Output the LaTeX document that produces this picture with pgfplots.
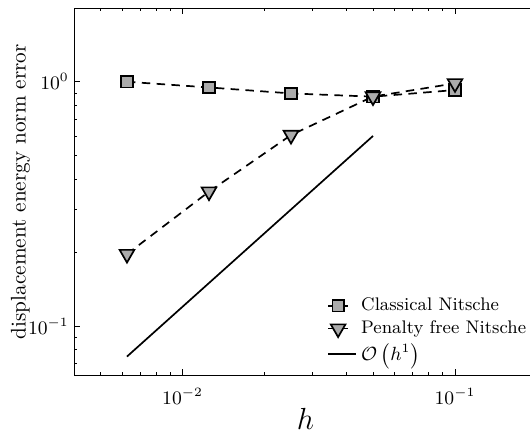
\documentclass[border=0pt]{standalone}
\usepackage{pgfplots}
\pgfplotsset{compat=1.18}
\definecolor{mfill}{HTML}{ABABAB}
\begin{document}
\begin{tikzpicture}
\begin{axis}[
 scale only axis, width=218.3pt, height=173pt,
 xmode=log, ymode=log,
 xmin=0.004, xmax=0.2, ymin=0.063, ymax=2,
 tick align=inside, tick style={black, thin},
 major tick length=2.8pt, minor tick length=1.5pt,
 tick label style={font=\small},
 xticklabel style={yshift=-2.5pt},
 yticklabel style={xshift=1pt},
 xlabel={$h$},
 xlabel style={font=\Large, inner sep=0pt, at={(axis description cs:0.5,-0.149)}, anchor=base},
 ylabel={displacement energy norm error},
 ylabel style={at={(axis description cs:-0.116,0.5)}, anchor=center, rotate=0},
 legend style={draw=none, fill=none, inner sep=0pt, at={(axis description cs:0.546,0.0195)}, anchor=south west, font=\fontsize{8.6}{11}\selectfont, row sep=0pt, nodes={inner ysep=1.6pt}},
 legend cell align=left,
 legend image code/.code={\draw[#1, solid] (0pt,0pt) -- (13.2pt,0pt); \draw[#1, solid] plot coordinates {(4.7pt,0pt)};},
]
\addplot[black, thick, dash pattern=on 4pt off 3pt, mark=square*, mark size=2.7pt, mark options={solid, fill=mfill, draw=black, thick}, legend image post style={shorten >=3.8pt}]
 coordinates {(0.00625,1.0) (0.0125,0.948) (0.025,0.896) (0.05,0.869) (0.1,0.925)};
\addlegendentry{Classical Nitsche}
\addplot[black, thick, dash pattern=on 4pt off 3pt, mark=triangle*, mark size=4pt, mark options={solid, rotate=180, fill=mfill, draw=black, thick}, legend image post style={shorten >=3.8pt}]
 coordinates {(0.00625,0.197) (0.0125,0.355) (0.025,0.605) (0.05,0.87) (0.1,0.985)};
\addlegendentry{Penalty free Nitsche}
\addplot[black, thick, no marks] coordinates {(0.00625,0.075) (0.05,0.6)};
\addlegendentry{$\mathcal{O}\left(h^1\right)$}
\end{axis}
\pgfresetboundingbox
\path[use as bounding box] ([xshift=-35pt,yshift=-27.8pt]current axis.south west) rectangle ([xshift=-3.3pt,yshift=3.9pt]current axis.north east);
\end{tikzpicture}
\end{document}
